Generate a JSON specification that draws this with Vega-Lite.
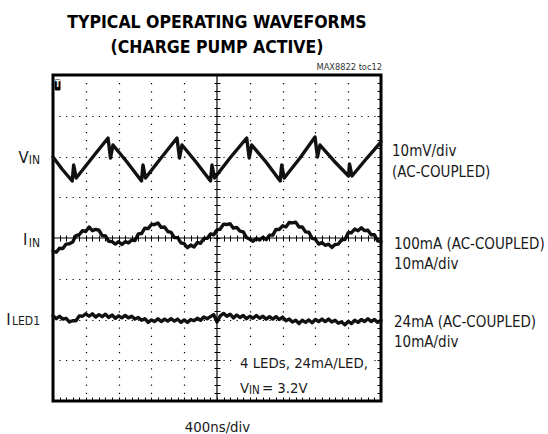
{
"$schema": "https://vega.github.io/schema/vega-lite/v6.json",
"width": 328, "height": 326,
"autosize": "none",
"padding": {"left": 53, "top": 75, "right": 167, "bottom": 33},
"config": {"view": {"stroke": "#000", "strokeWidth": 3}, "font": "DejaVu Sans Condensed", "text": {"font": "DejaVu Sans Condensed"}},
"title": {"text": ["TYPICAL OPERATING WAVEFORMS", "(CHARGE PUMP ACTIVE)"], "font": "DejaVu Sans Condensed", "fontSize": 17.5, "fontWeight": "bold", "color": "#000", "lineHeight": 24.5, "anchor": "middle", "frame": "group", "baseline": "bottom", "offset": -11.5},
"resolve": {"axis": {"x": "independent", "y": "independent"}},
"datasets": {
"traces": [
{"c":"V","t":0,"v":5.988},{"c":"V","t":0.274,"v":5.693},{"c":"V","t":0.585,"v":5.399},{"c":"V","t":0.631,"v":5.791},{"c":"V","t":0.707,"v":5.472},{"c":"V","t":1.189,"v":5.963},{"c":"V","t":1.677,"v":6.454},{"c":"V","t":1.753,"v":5.963},{"c":"V","t":1.829,"v":6.282},{"c":"V","t":2.256,"v":5.865},{"c":"V","t":2.698,"v":5.399},{"c":"V","t":2.744,"v":5.791},{"c":"V","t":2.82,"v":5.472},{"c":"V","t":3.293,"v":5.963},{"c":"V","t":3.78,"v":6.454},{"c":"V","t":3.857,"v":5.963},{"c":"V","t":3.933,"v":6.282},{"c":"V","t":4.36,"v":5.865},{"c":"V","t":4.802,"v":5.399},{"c":"V","t":4.848,"v":5.791},{"c":"V","t":4.924,"v":5.472},{"c":"V","t":5.396,"v":5.963},{"c":"V","t":5.905,"v":6.454},{"c":"V","t":5.982,"v":5.963},{"c":"V","t":6.058,"v":6.282},{"c":"V","t":6.494,"v":5.865},{"c":"V","t":6.927,"v":5.399},{"c":"V","t":6.973,"v":5.791},{"c":"V","t":7.049,"v":5.472},{"c":"V","t":7.53,"v":5.963},{"c":"V","t":7.988,"v":6.479},{"c":"V","t":8.064,"v":5.988},{"c":"V","t":8.14,"v":6.282},{"c":"V","t":8.567,"v":5.89},{"c":"V","t":9.009,"v":5.521},{"c":"V","t":9.04,"v":5.816},{"c":"V","t":9.116,"v":5.521},{"c":"V","t":9.573,"v":5.963},{"c":"V","t":10,"v":6.356},
{"c":"I","t":0,"v":3.68},{"c":"I","t":0.1,"v":3.65},{"c":"I","t":0.2,"v":3.75},{"c":"I","t":0.3,"v":3.74},{"c":"I","t":0.4,"v":3.85},{"c":"I","t":0.5,"v":3.86},{"c":"I","t":0.6,"v":3.9},{"c":"I","t":0.7,"v":4.06},{"c":"I","t":0.8,"v":4.08},{"c":"I","t":0.9,"v":4.18},
{"c":"I","t":1,"v":4.16},{"c":"I","t":1.1,"v":4.27},{"c":"I","t":1.2,"v":4.18},{"c":"I","t":1.3,"v":4.21},{"c":"I","t":1.4,"v":4.19},{"c":"I","t":1.5,"v":4.06},{"c":"I","t":1.6,"v":4.05},{"c":"I","t":1.7,"v":3.92},{"c":"I","t":1.8,"v":3.91},{"c":"I","t":1.9,"v":3.85},
{"c":"I","t":2,"v":3.91},{"c":"I","t":2.1,"v":3.84},{"c":"I","t":2.2,"v":3.91},{"c":"I","t":2.3,"v":3.88},{"c":"I","t":2.4,"v":3.95},{"c":"I","t":2.5,"v":3.94},{"c":"I","t":2.6,"v":4.1},{"c":"I","t":2.7,"v":4.11},{"c":"I","t":2.8,"v":4.24},{"c":"I","t":2.9,"v":4.23},
{"c":"I","t":3,"v":4.33},{"c":"I","t":3.1,"v":4.33},{"c":"I","t":3.2,"v":4.37},{"c":"I","t":3.3,"v":4.26},{"c":"I","t":3.4,"v":4.27},{"c":"I","t":3.5,"v":4.16},{"c":"I","t":3.6,"v":4.14},{"c":"I","t":3.7,"v":4.01},{"c":"I","t":3.8,"v":4.01},{"c":"I","t":3.9,"v":3.88},
{"c":"I","t":4,"v":3.86},{"c":"I","t":4.1,"v":3.76},{"c":"I","t":4.2,"v":3.83},{"c":"I","t":4.3,"v":3.78},{"c":"I","t":4.4,"v":3.89},{"c":"I","t":4.5,"v":3.87},{"c":"I","t":4.6,"v":3.99},{"c":"I","t":4.7,"v":3.99},{"c":"I","t":4.8,"v":4.1},{"c":"I","t":4.9,"v":4.08},
{"c":"I","t":5,"v":4.2},{"c":"I","t":5.1,"v":4.22},{"c":"I","t":5.2,"v":4.34},{"c":"I","t":5.3,"v":4.33},{"c":"I","t":5.4,"v":4.35},{"c":"I","t":5.5,"v":4.24},{"c":"I","t":5.6,"v":4.26},{"c":"I","t":5.7,"v":4.17},{"c":"I","t":5.8,"v":4.15},{"c":"I","t":5.9,"v":4.01},
{"c":"I","t":6,"v":3.97},{"c":"I","t":6.1,"v":3.92},{"c":"I","t":6.2,"v":3.99},{"c":"I","t":6.3,"v":3.95},{"c":"I","t":6.4,"v":4.02},{"c":"I","t":6.5,"v":3.96},{"c":"I","t":6.6,"v":4.07},{"c":"I","t":6.7,"v":4.07},{"c":"I","t":6.8,"v":4.21},{"c":"I","t":6.9,"v":4.21},
{"c":"I","t":7,"v":4.3},{"c":"I","t":7.1,"v":4.27},{"c":"I","t":7.2,"v":4.38},{"c":"I","t":7.3,"v":4.37},{"c":"I","t":7.4,"v":4.39},{"c":"I","t":7.5,"v":4.27},{"c":"I","t":7.6,"v":4.27},{"c":"I","t":7.7,"v":4.15},{"c":"I","t":7.8,"v":4.14},{"c":"I","t":7.9,"v":3.99},
{"c":"I","t":8,"v":3.97},{"c":"I","t":8.1,"v":3.85},{"c":"I","t":8.2,"v":3.89},{"c":"I","t":8.3,"v":3.82},{"c":"I","t":8.4,"v":3.85},{"c":"I","t":8.5,"v":3.77},{"c":"I","t":8.6,"v":3.84},{"c":"I","t":8.7,"v":3.85},{"c":"I","t":8.8,"v":3.96},{"c":"I","t":8.9,"v":3.96},
{"c":"I","t":9,"v":4.13},{"c":"I","t":9.1,"v":4.13},{"c":"I","t":9.2,"v":4.22},{"c":"I","t":9.3,"v":4.18},{"c":"I","t":9.4,"v":4.25},{"c":"I","t":9.5,"v":4.18},{"c":"I","t":9.6,"v":4.19},{"c":"I","t":9.7,"v":4.08},{"c":"I","t":9.8,"v":4.08},{"c":"I","t":9.9,"v":3.93},{"c":"I","t":10,"v":3.91},
{"c":"L","t":0,"v":2.09},{"c":"L","t":0.1,"v":2.02},{"c":"L","t":0.2,"v":2.08},{"c":"L","t":0.3,"v":2.01},{"c":"L","t":0.4,"v":2.03},{"c":"L","t":0.5,"v":1.94},{"c":"L","t":0.6,"v":1.97},{"c":"L","t":0.7,"v":1.97},{"c":"L","t":0.8,"v":2.09},{"c":"L","t":0.9,"v":2.08},
{"c":"L","t":1,"v":2.14},{"c":"L","t":1.1,"v":2.08},{"c":"L","t":1.2,"v":2.14},{"c":"L","t":1.3,"v":2.06},{"c":"L","t":1.4,"v":2.12},{"c":"L","t":1.5,"v":2.07},{"c":"L","t":1.6,"v":2.13},{"c":"L","t":1.7,"v":2.05},{"c":"L","t":1.8,"v":2.11},{"c":"L","t":1.9,"v":2.03},
{"c":"L","t":2,"v":2.09},{"c":"L","t":2.1,"v":2.04},{"c":"L","t":2.2,"v":2.1},{"c":"L","t":2.3,"v":2.04},{"c":"L","t":2.4,"v":2.08},{"c":"L","t":2.5,"v":2.01},{"c":"L","t":2.6,"v":2.05},{"c":"L","t":2.7,"v":1.98},{"c":"L","t":2.8,"v":2.02},{"c":"L","t":2.9,"v":1.93},
{"c":"L","t":3,"v":1.99},{"c":"L","t":3.1,"v":1.95},{"c":"L","t":3.2,"v":2.02},{"c":"L","t":3.3,"v":1.95},{"c":"L","t":3.4,"v":2.01},{"c":"L","t":3.5,"v":1.96},{"c":"L","t":3.6,"v":2.02},{"c":"L","t":3.7,"v":1.96},{"c":"L","t":3.8,"v":2.01},{"c":"L","t":3.9,"v":1.93},
{"c":"L","t":4,"v":1.99},{"c":"L","t":4.1,"v":1.93},{"c":"L","t":4.2,"v":2.0},{"c":"L","t":4.3,"v":1.97},{"c":"L","t":4.4,"v":2.03},{"c":"L","t":4.5,"v":1.98},{"c":"L","t":4.6,"v":2.06},{"c":"L","t":4.7,"v":2.02},{"c":"L","t":4.8,"v":2.07},{"c":"L","t":4.9,"v":2.12},
{"c":"L","t":5,"v":1.94},{"c":"L","t":5.1,"v":2.09},{"c":"L","t":5.2,"v":2.15},{"c":"L","t":5.3,"v":2.08},{"c":"L","t":5.4,"v":2.13},{"c":"L","t":5.5,"v":2.04},{"c":"L","t":5.6,"v":2.11},{"c":"L","t":5.7,"v":2.05},{"c":"L","t":5.8,"v":2.1},{"c":"L","t":5.9,"v":2.02},
{"c":"L","t":6,"v":2.08},{"c":"L","t":6.1,"v":2.03},{"c":"L","t":6.2,"v":2.1},{"c":"L","t":6.3,"v":2.03},{"c":"L","t":6.4,"v":2.08},{"c":"L","t":6.5,"v":2.01},{"c":"L","t":6.6,"v":2.07},{"c":"L","t":6.7,"v":2.01},{"c":"L","t":6.8,"v":2.07},{"c":"L","t":6.9,"v":2.0},
{"c":"L","t":7,"v":2.06},{"c":"L","t":7.1,"v":1.97},{"c":"L","t":7.2,"v":2.01},{"c":"L","t":7.3,"v":1.94},{"c":"L","t":7.4,"v":1.98},{"c":"L","t":7.5,"v":1.9},{"c":"L","t":7.6,"v":1.98},{"c":"L","t":7.7,"v":1.93},{"c":"L","t":7.8,"v":1.99},{"c":"L","t":7.9,"v":1.92},
{"c":"L","t":8,"v":2.0},{"c":"L","t":8.1,"v":1.95},{"c":"L","t":8.2,"v":2.01},{"c":"L","t":8.3,"v":1.95},{"c":"L","t":8.4,"v":2.01},{"c":"L","t":8.5,"v":1.94},{"c":"L","t":8.6,"v":1.98},{"c":"L","t":8.7,"v":1.91},{"c":"L","t":8.8,"v":1.94},{"c":"L","t":8.9,"v":1.87},
{"c":"L","t":9,"v":1.95},{"c":"L","t":9.1,"v":1.9},{"c":"L","t":9.2,"v":1.98},{"c":"L","t":9.3,"v":1.93},{"c":"L","t":9.4,"v":2.0},{"c":"L","t":9.5,"v":1.95},{"c":"L","t":9.6,"v":2.02},{"c":"L","t":9.7,"v":1.95},{"c":"L","t":9.8,"v":2.0},{"c":"L","t":9.9,"v":1.93},{"c":"L","t":10,"v":1.98}
]
},
"layer": [
{
"data": {"name": "traces"},
"mark": {"type": "line", "color": "#111", "strokeWidth": 3.4, "strokeJoin": "round", "strokeCap": "round"},
"encoding": {
"x": {"field": "t", "type": "quantitative", "scale": {"domain": [0, 10], "nice": false, "zero": false},
"axis": {"orient": "bottom", "values": [1, 2, 3, 4, 6, 7, 8, 9], "grid": true, "gridColor": "#000", "gridOpacity": 1, "gridWidth": 1.2, "gridDash": [1.2, 6.95], "gridDashOffset": 0.6, "ticks": false, "labels": false, "domain": false, "title": "400ns/div", "titleFont": "DejaVu Sans Condensed", "titleFontSize": 14.8, "titleFontWeight": "normal", "titleColor": "#1a1a1a", "titlePadding": 18, "zindex": 0}},
"y": {"field": "v", "type": "quantitative", "scale": {"domain": [0, 8], "nice": false, "zero": false},
"axis": {"orient": "left", "values": [1, 2, 3, 5, 6, 7], "grid": true, "gridColor": "#000", "gridOpacity": 1, "gridWidth": 1.2, "gridDash": [1.2, 5.36], "gridDashOffset": 0.6, "ticks": false, "labels": false, "domain": false, "title": null, "zindex": 0}},
"detail": {"field": "c"}
}
},
{
"data": {"values": [{"k": "vcenter"}]},
"mark": {"type": "rule", "color": "#000", "strokeWidth": 1.2},
"encoding": {
"x": {"datum": 5, "type": "quantitative", "axis": {"orient": "bottom", "offset": -166, "tickSize": 6, "tickCount": 50, "tickColor": "#000", "tickWidth": 1, "labels": false, "domain": false, "grid": false, "title": null, "zindex": 1}}
}
},
{
"data": {"values": [{"k": "hcenter"}]},
"mark": {"type": "rule", "color": "#000", "strokeWidth": 1.2},
"encoding": {
"y": {"datum": 4, "type": "quantitative", "axis": {"orient": "left", "offset": -167, "tickSize": 6, "tickCount": 40, "tickColor": "#000", "tickWidth": 1, "labels": false, "domain": false, "grid": false, "title": null, "zindex": 1}}
}
},
{
"data": {"values": [{"k": "notebox"}]},
"mark": {"type": "rect", "fill": "#fff"},
"encoding": {
"x": {"datum": 5.58, "type": "quantitative", "axis": {"orient": "bottom", "offset": -4, "tickSize": 4, "tickCount": 50, "tickColor": "#000", "tickWidth": 1, "labels": false, "domain": false, "grid": false, "title": null, "zindex": 1}},
"x2": {"datum": 9.73},
"y": {"datum": 0.1, "type": "quantitative", "axis": {"orient": "right", "offset": -4, "tickSize": 4, "tickCount": 40, "tickColor": "#000", "tickWidth": 1, "labels": false, "domain": false, "grid": false, "title": null, "zindex": 1}},
"y2": {"datum": 1.25}
}
},
{
"data": {"values": [{"k": "trigger"}]},
"mark": {"type": "rect", "fill": "#000", "cornerRadius": 1.5},
"encoding": {
"x": {"datum": 0.05, "type": "quantitative", "axis": null}, "x2": {"datum": 0.23},
"y": {"datum": 7.62, "type": "quantitative", "axis": null}, "y2": {"datum": 7.89}
}
},
{
"data": {"values": [{"s": "T"}]},
"mark": {"type": "text", "color": "#fff", "fontSize": 8, "fontWeight": "bold", "font": "DejaVu Sans Condensed", "align": "center", "baseline": "middle"},
"encoding": {"x": {"datum": 0.14, "type": "quantitative", "axis": null}, "y": {"datum": 7.755, "type": "quantitative", "axis": null}, "text": {"field": "s"}}
},
{
"data": {"values": [{"s": "MAX8822 toc12"}]},
"mark": {"type": "text", "color": "#333", "fontSize": 9.2, "align": "right", "baseline": "alphabetic", "dx": 1},
"encoding": {"x": {"datum": 10, "type": "quantitative", "axis": null}, "y": {"datum": 8.123, "type": "quantitative", "axis": null}, "text": {"field": "s"}}
},
{
"data": {"values": [{"s": "V"}]},
"mark": {"type": "text", "color": "#1a1a1a", "fontSize": 16.5, "align": "right", "baseline": "alphabetic"},
"encoding": {"x": {"datum": -0.74, "type": "quantitative", "axis": null}, "y": {"datum": 5.84, "type": "quantitative", "axis": null}, "text": {"field": "s"}}
},
{
"data": {"values": [{"s": "IN"}]},
"mark": {"type": "text", "color": "#1a1a1a", "fontSize": 12, "align": "right", "baseline": "alphabetic"},
"encoding": {"x": {"datum": -0.396, "type": "quantitative", "axis": null}, "y": {"datum": 5.804, "type": "quantitative", "axis": null}, "text": {"field": "s"}}
},
{
"data": {"values": [{"s": "I"}]},
"mark": {"type": "text", "color": "#1a1a1a", "fontSize": 16.5, "align": "right", "baseline": "alphabetic"},
"encoding": {"x": {"datum": -0.78, "type": "quantitative", "axis": null}, "y": {"datum": 3.828, "type": "quantitative", "axis": null}, "text": {"field": "s"}}
},
{
"data": {"values": [{"s": "IN"}]},
"mark": {"type": "text", "color": "#1a1a1a", "fontSize": 12, "align": "right", "baseline": "alphabetic"},
"encoding": {"x": {"datum": -0.396, "type": "quantitative", "axis": null}, "y": {"datum": 3.791, "type": "quantitative", "axis": null}, "text": {"field": "s"}}
},
{
"data": {"values": [{"s": "I"}]},
"mark": {"type": "text", "color": "#1a1a1a", "fontSize": 16.5, "align": "right", "baseline": "alphabetic"},
"encoding": {"x": {"datum": -1.29, "type": "quantitative", "axis": null}, "y": {"datum": 1.865, "type": "quantitative", "axis": null}, "text": {"field": "s"}}
},
{
"data": {"values": [{"s": "LED1"}]},
"mark": {"type": "text", "color": "#1a1a1a", "fontSize": 12, "align": "right", "baseline": "alphabetic"},
"encoding": {"x": {"datum": -0.396, "type": "quantitative", "axis": null}, "y": {"datum": 1.853, "type": "quantitative", "axis": null}, "text": {"field": "s"}}
},
{
"data": {"values": [{"s": "10mV/div\n(AC-COUPLED)"}]},
"mark": {"type": "text", "color": "#1a1a1a", "fontSize": 15, "align": "left", "baseline": "alphabetic", "lineBreak": "\n", "lineHeight": 20.5, "dx": 11},
"encoding": {"x": {"datum": 10, "type": "quantitative", "axis": null}, "y": {"datum": 6.012, "type": "quantitative", "axis": null}, "text": {"field": "s"}}
},
{
"data": {"values": [{"s": "100mA (AC-COUPLED)\n10mA/div"}]},
"mark": {"type": "text", "color": "#1a1a1a", "fontSize": 15, "align": "left", "baseline": "alphabetic", "lineBreak": "\n", "lineHeight": 20, "dx": 13},
"encoding": {"x": {"datum": 10, "type": "quantitative", "axis": null}, "y": {"datum": 3.742, "type": "quantitative", "axis": null}, "text": {"field": "s"}}
},
{
"data": {"values": [{"s": "24mA (AC-COUPLED)\n10mA/div"}]},
"mark": {"type": "text", "color": "#1a1a1a", "fontSize": 15, "align": "left", "baseline": "alphabetic", "lineBreak": "\n", "lineHeight": 20, "dx": 13},
"encoding": {"x": {"datum": 10, "type": "quantitative", "axis": null}, "y": {"datum": 1.823, "type": "quantitative", "axis": null}, "text": {"field": "s"}}
},
{
"data": {"values": [{"s": "4 LEDs, 24mA/LED,"}]},
"mark": {"type": "text", "color": "#1a1a1a", "fontSize": 14.8, "align": "left", "baseline": "alphabetic"},
"encoding": {"x": {"datum": 5.701, "type": "quantitative", "axis": null}, "y": {"datum": 0.81, "type": "quantitative", "axis": null}, "text": {"field": "s"}}
},
{
"data": {"values": [{"s": "V"}]},
"mark": {"type": "text", "color": "#1a1a1a", "fontSize": 14.8, "align": "left", "baseline": "alphabetic"},
"encoding": {"x": {"datum": 5.701, "type": "quantitative", "axis": null}, "y": {"datum": 0.196, "type": "quantitative", "axis": null}, "text": {"field": "s"}}
},
{
"data": {"values": [{"s": "IN"}]},
"mark": {"type": "text", "color": "#1a1a1a", "fontSize": 11.5, "align": "left", "baseline": "alphabetic", "dx": 9},
"encoding": {"x": {"datum": 5.701, "type": "quantitative", "axis": null}, "y": {"datum": 0.16, "type": "quantitative", "axis": null}, "text": {"field": "s"}}
},
{
"data": {"values": [{"s": "= 3.2V"}]},
"mark": {"type": "text", "color": "#1a1a1a", "fontSize": 14.8, "align": "left", "baseline": "alphabetic", "dx": 22},
"encoding": {"x": {"datum": 5.701, "type": "quantitative", "axis": null}, "y": {"datum": 0.196, "type": "quantitative", "axis": null}, "text": {"field": "s"}}
}
]
}
